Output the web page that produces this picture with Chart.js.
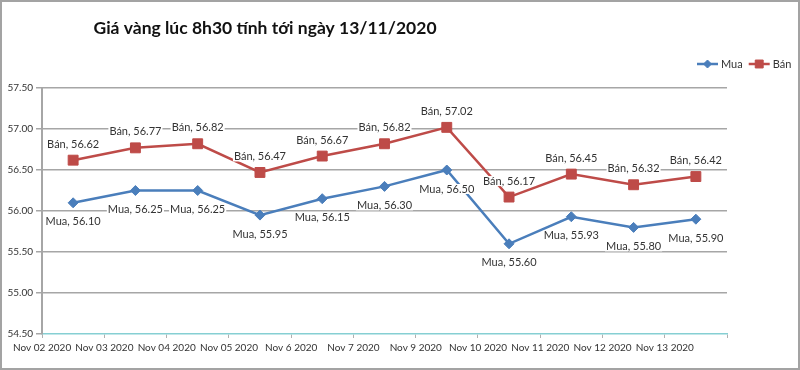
<!DOCTYPE html>
<html>
<head>
<meta charset="utf-8">
<script src="https://cdn.jsdelivr.net/npm/chart.js@4.4.1/dist/chart.umd.min.js"></script>
<style>
  html, body { margin: 0; padding: 0; background: #fff; }
  #wrap { position: relative; width: 800px; height: 370px; }
  #wrap:after { content: ''; position: absolute; left: 0; top: 0; right: 0; bottom: 0;
    border: 2px solid #a3a3a3; box-sizing: border-box; pointer-events: none; }
</style>
</head>
<body>
<div id="wrap"><canvas id="goldChart" width="800" height="370"></canvas></div>
<script>
//------------------------------------------------------
// DATA
//------------------------------------------------------
const chartTitle = 'Giá vàng lúc 8h30 tính tới ngày 13/11/2020';
const days = ['Nov 02 2020', 'Nov 03 2020', 'Nov 04 2020', 'Nov 05 2020', 'Nov 6 2020',
              'Nov 7 2020', 'Nov 9 2020', 'Nov 10 2020', 'Nov 11 2020', 'Nov 12 2020', 'Nov 13 2020'];
const muaValues = [56.10, 56.25, 56.25, 55.95, 56.15, 56.30, 56.50, 55.60, 55.93, 55.80, 55.90];
const banValues = [56.62, 56.77, 56.82, 56.47, 56.67, 56.82, 57.02, 56.17, 56.45, 56.32, 56.42];
const yTicks = [54.50, 55.00, 55.50, 56.00, 56.50, 57.00, 57.50];

const BLUE = '#4a7ebb';
const RED = '#be4b48';
Chart.defaults.font.family = 'Lato';

//------------------------------------------------------
// PLUGINS (title, legend, data labels)
//------------------------------------------------------
const titlePlugin = {
  id: 'titlePlugin',
  afterDraw(chart) {
    const ctx = chart.ctx;
    ctx.save();
    ctx.font = 'bold 17.5px Lato';
    ctx.fillStyle = '#111';
    ctx.textAlign = 'center';
    ctx.textBaseline = 'middle';
    ctx.fillText(chartTitle, 265, 28);
    ctx.restore();
  }
};

const legendPlugin = {
  id: 'legendPlugin',
  afterDraw(chart) {
    const ctx = chart.ctx;
    let x = 697;
    const y = 64;
    ctx.save();
    ctx.font = '11px Lato';
    ctx.textBaseline = 'middle';
    chart.data.datasets.forEach(ds => {
      ctx.strokeStyle = ds.borderColor;
      ctx.fillStyle = ds.backgroundColor;
      ctx.lineWidth = 2.5;
      ctx.beginPath();
      ctx.moveTo(x, y);
      ctx.lineTo(x + 21, y);
      ctx.stroke();
      ctx.lineWidth = 1;
      Chart.helpers.drawPoint(ctx, {
        pointStyle: ds.pointStyle,
        radius: ds.pointRadius * 0.8,
        borderWidth: 1
      }, x + 10.5, y);
      ctx.fillStyle = '#333';
      ctx.fillText(ds.label, x + 24, y);
      x += 24 + ctx.measureText(ds.label).width + 6;
    });
    ctx.restore();
  }
};

const valueLabels = {
  id: 'valueLabels',
  afterDatasetsDraw(chart) {
    const ctx = chart.ctx;
    ctx.save();
    ctx.font = '11px Lato';
    ctx.textAlign = 'center';
    ctx.textBaseline = 'middle';
    chart.data.datasets.forEach((ds, i) => {
      const shift = i === 0 ? 19 : -16;
      chart.getDatasetMeta(i).data.forEach((pt, j) => {
        const text = ds.label + ', ' + ds.data[j].toFixed(2);
        const w = ctx.measureText(text).width;
        const y = pt.y + shift;
        ctx.fillStyle = '#fff';
        ctx.fillRect(pt.x - w / 2 - 1, y - 5, w + 2, 10);
        ctx.fillStyle = '#333';
        ctx.fillText(text, pt.x, y);
      });
    });
    ctx.restore();
  }
};

//------------------------------------------------------
// CHART
//------------------------------------------------------
const config = {
  type: 'line',
  data: {
    labels: days,
    datasets: [{
      label: 'Mua',
      data: muaValues,
      borderColor: BLUE,
      backgroundColor: BLUE,
      borderWidth: 2.5,
      pointStyle: 'rectRot',
      pointRadius: 5,
      pointBorderWidth: 1,
      fill: false
    }, {
      label: 'Bán',
      data: banValues,
      borderColor: RED,
      backgroundColor: RED,
      borderWidth: 2.5,
      pointStyle: 'rect',
      pointRadius: 7,
      pointBorderWidth: 1,
      fill: false
    }]
  },
  options: {
    responsive: false,
    animation: false,
    layout: { padding: { top: 88, right: 73, left: 0, bottom: 0 } },
    elements: { line: { tension: 0 } },
    plugins: {
      legend: { display: false },
      title: { display: false },
      tooltip: { enabled: false }
    },
    scales: {
      x: {
        offset: true,
        afterFit: s => { s.height = 36; },
        grid: {
          offset: true,
          drawOnChartArea: false,
          drawTicks: true,
          tickLength: 4,
          tickColor: '#b0b0b0'
        },
        border: { color: '#86cfd3', width: 1.5 },
        ticks: {
          autoSkip: false,
          maxRotation: 0,
          labelOffset: -31,
          padding: 4,
          color: '#333',
          font: { size: 10 }
        }
      },
      y: {
        min: yTicks[0],
        max: yTicks[yTicks.length - 1],
        afterFit: s => { s.width = 42; },
        afterBuildTicks: s => { s.ticks = yTicks.map(v => ({ value: v })); },
        grid: {
          color: ctx => ctx.tick && ctx.tick.value === yTicks[0] ? 'rgba(0,0,0,0)' : '#a6a6a6',
          lineWidth: 1.5,
          tickLength: 6,
          tickColor: '#a6a6a6'
        },
        border: { color: '#a6a6a6', width: 2 },
        ticks: {
          padding: 3,
          color: '#333',
          font: { size: 10 },
          callback: v => Number(v).toFixed(2)
        }
      }
    }
  },
  plugins: [valueLabels, titlePlugin, legendPlugin]
};

const ctx = document.getElementById('goldChart').getContext('2d');
const goldChart = new Chart(ctx, config);
</script>
</body>
</html>
